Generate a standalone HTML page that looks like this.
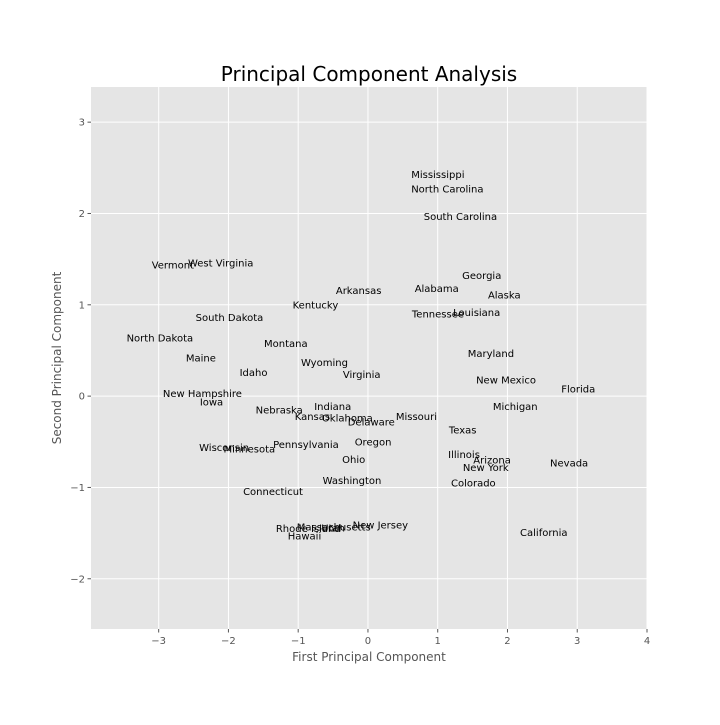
<!DOCTYPE html>
<html><head><meta charset="utf-8"><style>
body{margin:0;background:#fff}
svg text{font-family:"DejaVu Sans","Liberation Sans",sans-serif}
</style></head><body>
<svg id="chart" width="720" height="720">
<rect x="91" y="87" width="556" height="542" fill="#e5e5e5"/>
<g id="grid"></g><g id="ticks"></g><g id="labels"></g>
<text x="369" y="81" font-size="20" text-anchor="middle" fill="#000">Principal Component Analysis</text>
<text x="369" y="661" font-size="12" text-anchor="middle" fill="#555">First Principal Component</text>
<text x="61" y="358" font-size="12" text-anchor="middle" fill="#555" transform="rotate(-90 61 358)">Second Principal Component</text>
</svg>
<script>
const states=["Mississippi","North Carolina","South Carolina","West Virginia","Vermont","Georgia","Arkansas","Alabama","Alaska","Kentucky","South Dakota","Tennessee","Louisiana","North Dakota","Montana","Maine","Maryland","Wyoming","Idaho","Virginia","New Mexico","Florida","New Hampshire","Iowa","Indiana","Michigan","Nebraska","Missouri","Kansas","Oklahoma","Delaware","Texas","Oregon","Pennsylvania","Wisconsin","Minnesota","Illinois","Arizona","Ohio","Nevada","New York","Washington","Colorado","Connecticut","New Jersey","Massachusetts","Utah","Rhode Island","California","Hawaii"];
const pc1=[0.62,0.62,0.80,-2.58,-3.10,1.35,-0.46,0.67,1.72,-1.08,-2.47,0.63,1.22,-3.46,-1.49,-2.61,1.43,-0.96,-1.84,-0.36,1.55,2.77,-2.94,-2.41,-0.77,1.79,-1.61,0.40,-1.05,-0.66,-0.29,1.16,-0.19,-1.36,-2.42,-2.07,1.15,1.51,-0.37,2.61,1.36,-0.65,1.19,-1.79,-0.22,-1.02,-0.67,-1.32,2.18,-1.15];
const pc2=[2.39,2.23,1.93,1.42,1.40,1.28,1.12,1.14,1.07,0.96,0.82,0.86,0.88,0.60,0.54,0.38,0.43,0.33,0.22,0.20,0.14,0.04,-0.01,-0.10,-0.15,-0.15,-0.19,-0.26,-0.26,-0.28,-0.32,-0.41,-0.54,-0.57,-0.60,-0.62,-0.68,-0.74,-0.73,-0.77,-0.82,-0.96,-0.99,-1.08,-1.45,-1.47,-1.48,-1.49,-1.53,-1.57];
const xTicks=[-3,-2,-1,0,1,2,3,4];
const yTicks=[-2,-1,0,1,2,3];
const xMin=-3.97,xMax=4.0,yMin=-2.55,yMax=3.385;
const L=91,R=647,T=87,B=629;
const sx=v=>L+(v-xMin)/(xMax-xMin)*(R-L);
const sy=v=>B-(v-yMin)/(yMax-yMin)*(B-T);
const NS="http://www.w3.org/2000/svg";
const g=document.getElementById('grid'),tk=document.getElementById('ticks'),lb=document.getElementById('labels');
function mk(tag,attrs,parent){const e=document.createElementNS(NS,tag);for(const k in attrs)e.setAttribute(k,attrs[k]);parent.appendChild(e);return e;}
xTicks.forEach(v=>{const x=sx(v);
 const l=mk('line',{x1:x,x2:x,y1:T,y2:B,stroke:'#fff','stroke-width':1},g);
 
 
 mk('line',{x1:x,x2:x,y1:B,y2:B+3.5,stroke:'#555'},tk);
 const t=mk('text',{x:x,y:B+15,'font-size':10,'text-anchor':'middle',fill:'#555'},tk);
 t.textContent=(v<0?'\u2212'+(-v):v);
 
 });
yTicks.forEach(v=>{const y=sy(v);
 const l=mk('line',{x1:L,x2:R,y1:y,y2:y,stroke:'#fff','stroke-width':1},g);
 
 
 mk('line',{x1:L-3.5,x2:L,y1:y,y2:y,stroke:'#555'},tk);
 const t=mk('text',{x:L-6,y:y+3.5,'font-size':10,'text-anchor':'end',fill:'#555'},tk);
 t.textContent=(v<0?'\u2212'+(-v):v);
 
 });
states.forEach((s,i)=>{
 const t=mk('text',{x:sx(pc1[i]),y:sy(pc2[i]),'font-size':10,fill:'#000'},lb);
 t.textContent=s;
 
 });
</script>
</body></html>
